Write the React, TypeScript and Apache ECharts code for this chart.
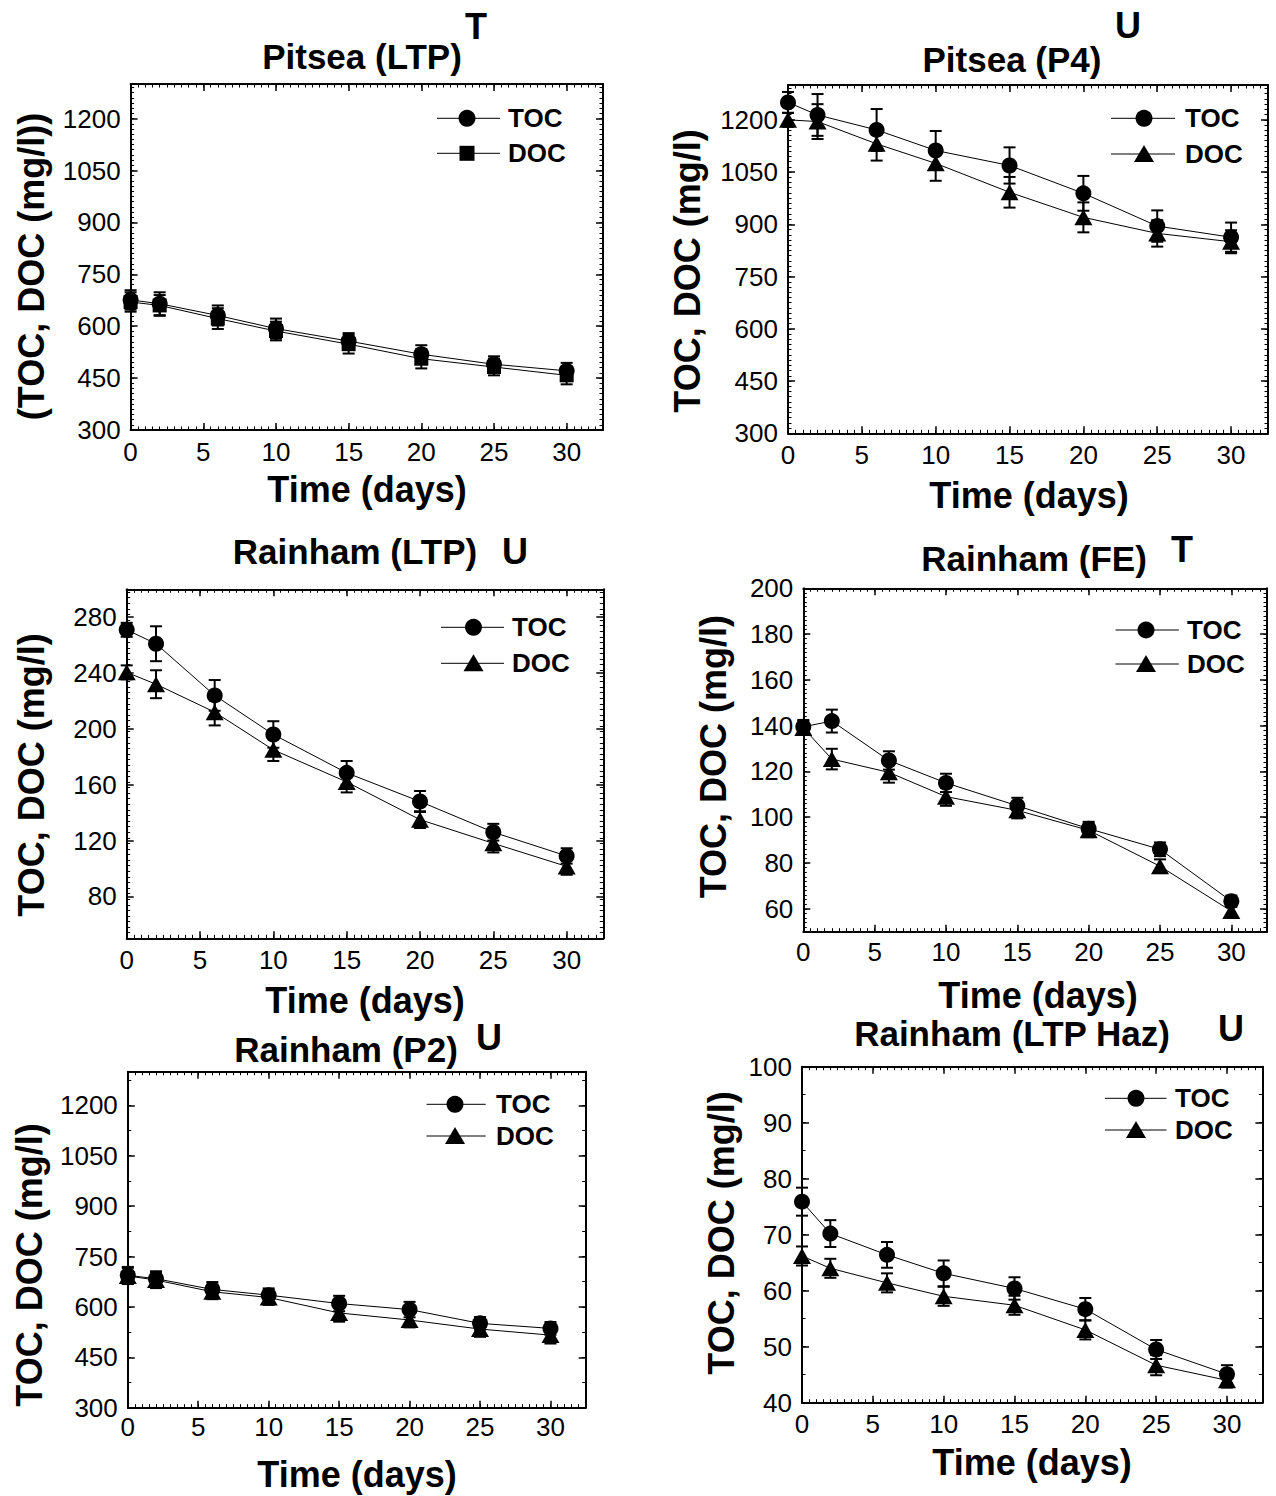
import React, { useEffect, useRef } from "react";
import * as echarts from "echarts";

// ---------- data ----------
const days = [0, 2, 6, 10, 15, 20, 25, 30];
const xTicks = [0, 5, 10, 15, 20, 25, 30];

// Pitsea (LTP)
const p1Toc = [676, 665, 631, 593, 557, 519, 490, 471];
const p1TocErr = [28, 33, 29, 29, 23, 26, 23, 23];
const p1Doc = [670, 660, 622, 586, 548, 506, 482, 458];
const p1DocErr = [28, 30, 30, 27, 27, 28, 24, 26];
const y1Ticks = [300, 450, 600, 750, 900, 1050, 1200];

// Pitsea (P4)
const p2Toc = [1250, 1214, 1171, 1112, 1069, 989, 895, 863];
const p2TocErr = [30, 60, 60, 56, 52, 50, 45, 42];
const p2Doc = [1200, 1195, 1131, 1075, 992, 920, 874, 850];
const p2DocErr = [20, 50, 48, 50, 44, 43, 38, 33];
const y2Ticks = [300, 450, 600, 750, 900, 1050, 1200];

// Rainham (LTP)
const p3Toc = [271, 261, 224, 196, 168.5, 148, 126, 109];
const p3TocErr = [5, 12.5, 11, 9.5, 8.5, 7.5, 6, 5.5];
const p3Doc = [240.5, 232, 212, 185, 162, 135, 118, 101.5];
const p3DocErr = [5, 10, 9.5, 8, 7.5, 6, 6.5, 6];
const y3Ticks = [80, 120, 160, 200, 240, 280];

// Rainham (FE)
const p4Toc = [139.5, 142, 124.8, 115, 105, 95, 86, 63.3];
const p4TocErr = [3, 5, 4, 4, 3.5, 3, 3, 2.5];
const p4Doc = [139, 125.4, 119.6, 109, 103, 94.3, 78.6, 59];
const p4DocErr = [3, 4.5, 4.5, 4, 3.5, 3, 3, 3];
const y4Ticks = [60, 80, 100, 120, 140, 160, 180, 200];

// Rainham (P2)
const p5Toc = [694, 684, 652, 635, 610, 592, 551, 536];
const p5TocErr = [25, 22, 22, 20, 23, 23, 19, 19];
const p5Doc = [692, 680, 645, 628, 582, 561, 534, 516];
const p5DocErr = [24, 24, 22, 22, 26, 22, 23, 25];
const y5Ticks = [300, 450, 600, 750, 900, 1050, 1200];

// Rainham (LTP Haz)
const p6Toc = [75.9, 70.2, 66.4, 63.1, 60.4, 56.7, 49.5, 45.1];
const p6TocErr = [2.5, 2.4, 2.3, 2.3, 2, 2, 1.7, 1.6];
const p6Doc = [66.2, 64, 61.4, 59, 57.4, 53, 46.7, 44];
const p6DocErr = [1.7, 1.7, 1.7, 1.7, 1.7, 1.7, 1.8, 1.3];
const y6Ticks = [40, 50, 60, 70, 80, 90, 100];

const FONT = "'Liberation Sans', Arial, Helvetica, sans-serif";

function steps(min: number, max: number, step: number) {
  const out: number[] = [];
  const n = Math.floor((max - min) / step + 1e-9);
  for (let k = 0; k <= n; k++) out.push(Math.round((min + k * step) * 1000) / 1000);
  return out;
}

const panels = [
  {
    title: "Pitsea (LTP)", sup: "T", yName: "(TOC, DOC (mg/l))",
    toc: p1Toc, tocErr: p1TocErr, doc: p1Doc, docErr: p1DocErr, docSymbol: "rect",
    yMin: 300, yMax: 1300, yTicks: y1Ticks, yMinorStep: 15,
    grid: [130.6, 84, 603, 430], titlePos: [362, 56.5], supPos: [476, 26.7],
    yNamePos: [31, 266.5], xNamePos: [367, 489], xLabelMargin: 9,
    leg: { x1: 437, x2: 500, mx: 467, tx: 508, r1: 118.3, r2: 153.3 },
  },
  {
    title: "Pitsea (P4)", sup: "U", yName: "TOC, DOC (mg/l)",
    toc: p2Toc, tocErr: p2TocErr, doc: p2Doc, docErr: p2DocErr, docSymbol: "triangle",
    yMin: 300, yMax: 1300, yTicks: y2Ticks, yMinorStep: 15,
    grid: [788, 85, 1268, 433.3], titlePos: [1012, 59], supPos: [1128, 25],
    yNamePos: [687, 271], xNamePos: [1029, 495], xLabelMargin: 9,
    leg: { x1: 1111, x2: 1175, mx: 1144, tx: 1185, r1: 118.3, r2: 154 },
  },
  {
    title: "Rainham (LTP)", sup: "U", yName: "TOC, DOC (mg/l)",
    toc: p3Toc, tocErr: p3TocErr, doc: p3Doc, docErr: p3DocErr, docSymbol: "triangle",
    yMin: 50, yMax: 300, yTicks: y3Ticks, yMinorStep: 4,
    grid: [126.7, 589.3, 603.3, 938.3], titlePos: [355, 551.7], supPos: [515, 551.7],
    yNamePos: [31, 775], xNamePos: [365, 1000], xLabelMargin: 9,
    leg: { x1: 441, x2: 504, mx: 473.5, tx: 512, r1: 627.3, r2: 663.3 },
  },
  {
    title: "Rainham (FE)", sup: "T", yName: "TOC, DOC (mg/l)",
    toc: p4Toc, tocErr: p4TocErr, doc: p4Doc, docErr: p4DocErr, docSymbol: "triangle",
    yMin: 50, yMax: 200, yTicks: y4Ticks, yMinorStep: 2,
    grid: [803.3, 588.3, 1267, 931.7], titlePos: [1034, 558.3], supPos: [1182, 549],
    yNamePos: [713, 756.7], xNamePos: [1038, 995], xLabelMargin: 7,
    leg: { x1: 1115.5, x2: 1178.8, mx: 1146, tx: 1187, r1: 630, r2: 664 },
  },
  {
    title: "Rainham (P2)", sup: "U", yName: "TOC, DOC (mg/l)",
    toc: p5Toc, tocErr: p5TocErr, doc: p5Doc, docErr: p5DocErr, docSymbol: "triangle",
    yMin: 300, yMax: 1300, yTicks: y5Ticks, yMinorStep: 75,
    grid: [127.8, 1071.7, 585.7, 1407.7], titlePos: [346, 1049], supPos: [489, 1037.5],
    yNamePos: [29, 1265], xNamePos: [357, 1474], xLabelMargin: 6,
    leg: { x1: 426.5, x2: 485.7, mx: 455, tx: 496, r1: 1104.3, r2: 1136 },
  },
  {
    title: "Rainham (LTP Haz)", sup: "U", yName: "TOC, DOC (mg/l)",
    toc: p6Toc, tocErr: p6TocErr, doc: p6Doc, docErr: p6DocErr, docSymbol: "triangle",
    yMin: 40, yMax: 100, yTicks: y6Ticks, yMinorStep: 5,
    grid: [802, 1066.7, 1262.4, 1402.7], titlePos: [1012, 1033.5], supPos: [1231, 1028],
    yNamePos: [721, 1233], xNamePos: [1032, 1462.5], xLabelMargin: 8,
    leg: { x1: 1105, x2: 1166.5, mx: 1136, tx: 1175, r1: 1098.3, r2: 1130 },
  },
];

const X_MIN = 0;
const X_MAX = 32.5;
const X_MINOR = 0.5;

function buildOption() {
  const grids: any[] = [];
  const xAxes: any[] = [];
  const yAxes: any[] = [];
  const series: any[] = [];
  const graphics: any[] = [];
  const black = "#000";
  const plain = (v: number) => String(v);

  panels.forEach((p, gi) => {
    const [L, T, R, B] = p.grid;
    grids.push({ left: L, top: T, width: R - L, height: B - T, containLabel: false, outerBoundsMode: "none" });

    const xMinor = steps(X_MIN, X_MAX, X_MINOR);
    const yMinor = steps(p.yMin, p.yMax, p.yMinorStep);

    const xBase = {
      gridIndex: gi, type: "value", min: X_MIN, max: X_MAX,
      splitLine: { show: false }, minorTick: { show: false },
    };
    const yBase = {
      gridIndex: gi, type: "value", min: p.yMin, max: p.yMax,
      splitLine: { show: false }, minorTick: { show: false },
    };
    const lineOn = { show: true, onZero: false, lineStyle: { color: black, width: 2 } };
    const lineOff = { show: false, onZero: false };

    // x axes: bottom major (labels), bottom minor, top major, top minor
    xAxes.push({
      ...xBase, position: "bottom", axisLine: lineOn,
      axisTick: { show: true, inside: true, length: 7, customValues: xTicks, lineStyle: { color: black, width: 1.5 } },
      axisLabel: { show: true, customValues: xTicks, formatter: plain, margin: p.xLabelMargin, fontSize: 26, color: black, fontFamily: FONT },
    });
    xAxes.push({
      ...xBase, position: "bottom", axisLine: lineOff,
      axisTick: { show: true, inside: true, length: 3.5, customValues: xMinor, lineStyle: { color: black, width: 1 } },
      axisLabel: { show: false },
    });
    xAxes.push({
      ...xBase, position: "top", axisLine: lineOn,
      axisTick: { show: true, inside: true, length: 7, customValues: xTicks, lineStyle: { color: black, width: 1.5 } },
      axisLabel: { show: false },
    });
    xAxes.push({
      ...xBase, position: "top", axisLine: lineOff,
      axisTick: { show: true, inside: true, length: 3.5, customValues: xMinor, lineStyle: { color: black, width: 1 } },
      axisLabel: { show: false },
    });

    // y axes: left major (labels), left minor, right major, right minor
    yAxes.push({
      ...yBase, position: "left", axisLine: lineOn,
      axisTick: { show: true, inside: true, length: 7, customValues: p.yTicks, lineStyle: { color: black, width: 1.5 } },
      axisLabel: { show: true, customValues: p.yTicks, formatter: plain, margin: 10, fontSize: 26, color: black, fontFamily: FONT },
    });
    yAxes.push({
      ...yBase, position: "left", axisLine: lineOff,
      axisTick: { show: true, inside: true, length: 3.5, customValues: yMinor, lineStyle: { color: black, width: 1 } },
      axisLabel: { show: false },
    });
    yAxes.push({
      ...yBase, position: "right", axisLine: lineOn,
      axisTick: { show: true, inside: true, length: 7, customValues: p.yTicks, lineStyle: { color: black, width: 1.5 } },
      axisLabel: { show: false },
    });
    yAxes.push({
      ...yBase, position: "right", axisLine: lineOff,
      axisTick: { show: true, inside: true, length: 3.5, customValues: yMinor, lineStyle: { color: black, width: 1 } },
      axisLabel: { show: false },
    });

    const xi = gi * 4;
    const yi = gi * 4;

    const errSeries = (vals: number[], errs: number[], name: string) => ({
      type: "custom",
      name,
      xAxisIndex: xi,
      yAxisIndex: yi,
      z: 2,
      silent: true,
      encode: { x: 0, y: [1, 2] },
      data: days.map((d, i) => [d, vals[i] - errs[i], vals[i] + errs[i]]),
      renderItem: (params: any, api: any) => {
        const x = api.value(0);
        const lo = api.coord([x, api.value(1)]);
        const hi = api.coord([x, api.value(2)]);
        const w = 6;
        const st = { stroke: black, lineWidth: 2 };
        return {
          type: "group",
          children: [
            { type: "line", shape: { x1: lo[0], y1: lo[1], x2: hi[0], y2: hi[1] }, style: st },
            { type: "line", shape: { x1: lo[0] - w, y1: lo[1], x2: lo[0] + w, y2: lo[1] }, style: st },
            { type: "line", shape: { x1: hi[0] - w, y1: hi[1], x2: hi[0] + w, y2: hi[1] }, style: st },
          ],
        };
      },
    });

    series.push(errSeries(p.toc, p.tocErr, "TOC error"));
    series.push(errSeries(p.doc, p.docErr, "DOC error"));
    series.push({
      type: "line", name: "TOC", xAxisIndex: xi, yAxisIndex: yi, z: 3,
      data: days.map((d, i) => [d, p.toc[i]]),
      symbol: "circle", symbolSize: 16, showAllSymbol: true,
      lineStyle: { color: black, width: 1 }, itemStyle: { color: black },
    });
    series.push({
      type: "line", name: "DOC", xAxisIndex: xi, yAxisIndex: yi, z: 3,
      data: days.map((d, i) => [d, p.doc[i]]),
      symbol: p.docSymbol === "rect" ? "rect" : "triangle",
      symbolSize: p.docSymbol === "rect" ? 14 : [18, 16], showAllSymbol: true,
      lineStyle: { color: black, width: 1 }, itemStyle: { color: black },
    });

    // titles and axis names
    const boldText = (x: number, y: number, text: string, size: number, rot = 0) => ({
      type: "text", x, y, rotation: rot, z: 10,
      style: { text, fill: black, fontSize: size, fontWeight: "bold", fontFamily: FONT, align: "center", verticalAlign: "middle" },
    });
    graphics.push(boldText(p.titlePos[0], p.titlePos[1], p.title, 35));
    graphics.push(boldText(p.supPos[0], p.supPos[1], p.sup, 36));
    graphics.push(boldText(p.yNamePos[0], p.yNamePos[1], p.yName, 36, Math.PI / 2));
    graphics.push(boldText(p.xNamePos[0], p.xNamePos[1], "Time (days)", 36));

    // legend
    const lg = p.leg;
    const rows = [
      { name: "TOC", y: lg.r1, sym: "circle" },
      { name: "DOC", y: lg.r2, sym: p.docSymbol },
    ];
    rows.forEach((r) => {
      graphics.push({ type: "line", z: 10, shape: { x1: lg.x1, y1: r.y, x2: lg.x2, y2: r.y }, style: { stroke: black, lineWidth: 1 } });
      if (r.sym === "circle") {
        graphics.push({ type: "circle", z: 11, shape: { cx: lg.mx, cy: r.y, r: 8.5 }, style: { fill: black } });
      } else if (r.sym === "rect") {
        graphics.push({ type: "rect", z: 11, shape: { x: lg.mx - 7.5, y: r.y - 7.5, width: 15, height: 15 }, style: { fill: black } });
      } else {
        graphics.push({
          type: "polygon", z: 11,
          shape: { points: [[lg.mx, r.y - 9], [lg.mx + 10, r.y + 8], [lg.mx - 10, r.y + 8]] },
          style: { fill: black },
        });
      }
      graphics.push({
        type: "text", x: lg.tx, y: r.y, z: 10,
        style: { text: r.name, fill: black, fontSize: 26, fontWeight: "bold", fontFamily: FONT, align: "left", verticalAlign: "middle" },
      });
    });
  });

  return {
    animation: false,
    backgroundColor: "#fff",
    grid: grids,
    xAxis: xAxes,
    yAxis: yAxes,
    series,
    graphic: graphics,
  };
}

export default function App() {
  const ref = useRef<HTMLDivElement>(null);
  useEffect(() => {
    document.body.style.margin = "0";
    if (!ref.current) return;
    const chart = echarts.init(ref.current, undefined, { renderer: "svg" });
    chart.setOption(buildOption() as any);
    return () => chart.dispose();
  }, []);
  return <div ref={ref} style={{ width: 1276, height: 1496, background: "#fff" }} />;
}
